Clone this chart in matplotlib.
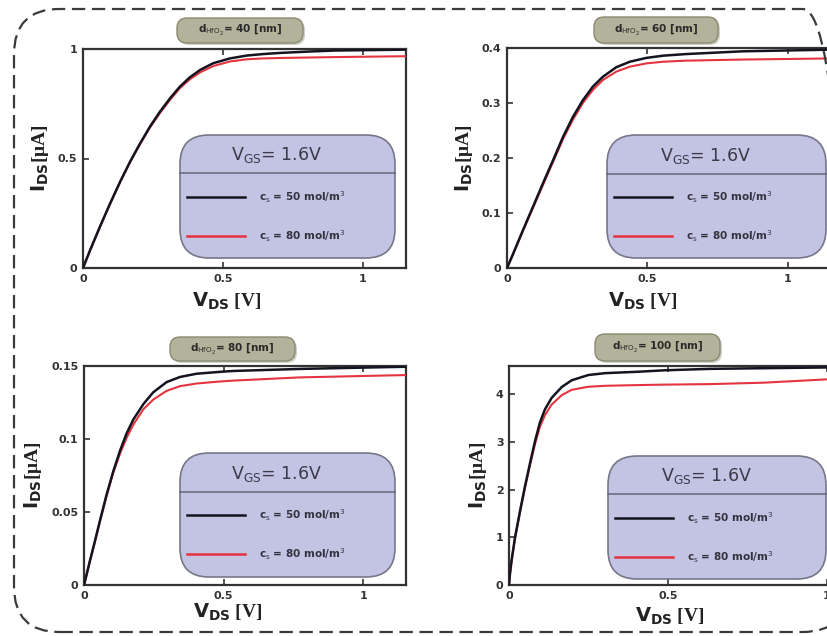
import matplotlib
matplotlib.use("Agg")
import matplotlib.pyplot as plt
from matplotlib.patches import FancyBboxPatch
from matplotlib.lines import Line2D

W, H = 827, 636

# ---------------- data ----------------
titles = ["40", "60", "80", "100"]
legend_title = r"V$_{\rm GS}$= 1.6V"
series_labels = [r"c$_{\rm s}$ = 50 mol/m$^3$", r"c$_{\rm s}$ = 80 mol/m$^3$"]

v1_black = [0, 0.025, 0.061, 0.096, 0.132, 0.168, 0.204, 0.239, 0.275, 0.311, 0.346, 0.382,
            0.418, 0.465, 0.525, 0.585, 0.644, 0.704, 0.80, 0.90, 1.15]
i1_black = [0, 0.08, 0.19, 0.292, 0.392, 0.485, 0.569, 0.645, 0.714, 0.775, 0.828, 0.871,
            0.904, 0.935, 0.957, 0.970, 0.977, 0.982, 0.988, 0.993, 0.997]
v1_red = [0, 0.025, 0.061, 0.096, 0.132, 0.168, 0.204, 0.239, 0.275, 0.311, 0.346, 0.382,
          0.418, 0.465, 0.525, 0.585, 0.644, 0.704, 0.80, 0.90, 1.15]
i1_red = [0, 0.08, 0.19, 0.292, 0.391, 0.483, 0.566, 0.641, 0.708, 0.768, 0.821, 0.862,
          0.893, 0.922, 0.943, 0.953, 0.957, 0.959, 0.961, 0.963, 0.967]

v2_black = [0, 0.021, 0.057, 0.093, 0.128, 0.164, 0.20, 0.235, 0.27, 0.306, 0.342, 0.389,
            0.437, 0.496, 0.555, 0.638, 0.84, 1.15]
i2_black = [0, 0.025, 0.069, 0.112, 0.154, 0.196, 0.239, 0.275, 0.305, 0.330, 0.348, 0.365,
            0.375, 0.382, 0.386, 0.389, 0.394, 0.397]
v2_red = [0, 0.021, 0.057, 0.093, 0.128, 0.164, 0.20, 0.235, 0.27, 0.306, 0.342, 0.389,
          0.437, 0.496, 0.555, 0.638, 0.84, 1.15]
i2_red = [0, 0.024, 0.068, 0.110, 0.151, 0.193, 0.235, 0.270, 0.300, 0.324, 0.342, 0.357,
          0.366, 0.372, 0.375, 0.377, 0.379, 0.381]

v3_black = [0, 0.0095, 0.021, 0.039, 0.057, 0.081, 0.105, 0.129, 0.153, 0.177, 0.213, 0.248,
            0.296, 0.344, 0.403, 0.487, 0.535, 0.773, 1.153]
i3_black = [0, 0.0073, 0.0164, 0.030, 0.044, 0.062, 0.078, 0.092, 0.104, 0.1135, 0.124, 0.132,
            0.139, 0.1425, 0.1447, 0.1460, 0.1466, 0.148, 0.1495]
v3_red = [0, 0.0095, 0.021, 0.039, 0.057, 0.081, 0.105, 0.129, 0.153, 0.177, 0.213, 0.248,
          0.296, 0.344, 0.403, 0.487, 0.535, 0.773, 1.153]
i3_red = [0, 0.0072, 0.0162, 0.0295, 0.0435, 0.061, 0.077, 0.090, 0.101, 0.110, 0.1205, 0.127,
          0.133, 0.1362, 0.138, 0.1394, 0.1400, 0.1422, 0.1438]

v4_black = [0, 0.003, 0.008, 0.019, 0.035, 0.05, 0.066, 0.082, 0.097, 0.113, 0.134, 0.166,
            0.197, 0.249, 0.302, 0.407, 0.49, 0.63, 1.0]
i4_black = [0, 0.23, 0.51, 1.0, 1.56, 2.06, 2.55, 3.02, 3.40, 3.68, 3.92, 4.15,
            4.29, 4.40, 4.44, 4.47, 4.50, 4.53, 4.56]
v4_red = [0, 0.003, 0.008, 0.019, 0.035, 0.05, 0.066, 0.082, 0.097, 0.113, 0.134, 0.166,
          0.197, 0.249, 0.302, 0.407, 0.49, 0.63, 0.8, 1.0]
i4_red = [0, 0.23, 0.50, 0.98, 1.54, 2.03, 2.51, 2.96, 3.31, 3.56, 3.78, 3.98,
          4.09, 4.155, 4.175, 4.19, 4.20, 4.21, 4.24, 4.31]

yticks = [[0, 0.5, 1], [0, 0.1, 0.2, 0.3, 0.4], [0, 0.05, 0.1, 0.15], [0, 1, 2, 3, 4]]
yticklabels = [["0", "0.5", "1"], ["0", "0.1", "0.2", "0.3", "0.4"],
               ["0", "0.05", "0.1", "0.15"], ["0", "1", "2", "3", "4"]]
xticks = [0, 0.5, 1]
xticklabels = ["0", "0.5", "1"]
ylims = [1.0, 0.4, 0.15, 4.59]
xlims = [1.154, 1.15, 1.153, 1.013]

data = [(v1_black, i1_black, v1_red, i1_red),
        (v2_black, i2_black, v2_red, i2_red),
        (v3_black, i3_black, v3_red, i3_red),
        (v4_black, i4_black, v4_red, i4_red)]

# ---------------- layout (pixels) ----------------
axes_px = [(83, 49, 323, 219), (507, 48, 323, 220), (84, 366, 322, 219), (509, 366, 322, 219)]
title_px = [(177, 18, 126, 25), (594, 17, 124, 26), (170, 337, 125, 24), (595, 334, 125, 27)]
legend_px = [(180, 135, 215, 123, 173), (607, 135, 219, 123, 174),
             (180, 453, 215, 124, 492), (608, 456, 218, 123, 494)]
xlabel_pos = [(0.446, -0.105), (0.42, -0.105), (0.446, -0.078), (0.5, -0.095)]

BLACK = "#141420"
RED = "#e3343f"

fig = plt.figure(figsize=(W / 100, H / 100), dpi=100)
fig.patch.set_facecolor("white")


def fx(px):
    return px / W


def fy(py):
    return 1 - py / H


# dashed rounded outer border
border = FancyBboxPatch((fx(14), fy(632)), fx(848) - fx(14), fy(9) - fy(632),
                        boxstyle="round,pad=0,rounding_size=0.055",
                        transform=fig.transFigure, fill=False, edgecolor="#3a3a3a",
                        linewidth=1.6, linestyle=(0, (6, 3)), mutation_aspect=W / H)
fig.add_artist(border)

for k in range(4):
    x0, y0, w, h = axes_px[k]
    ax = fig.add_axes([fx(x0), fy(y0 + h), w / W, h / H])
    vb, ib, vr, ir = data[k]
    ax.plot(vr, ir, color=RED, lw=1.5, zorder=3, solid_joinstyle="round")
    ax.plot(vb, ib, color=BLACK, lw=1.8, zorder=4, solid_joinstyle="round")
    ax.set_xlim(0, xlims[k])
    ax.set_ylim(0, ylims[k])
    ax.set_xticks(xticks)
    ax.set_xticklabels(xticklabels)
    ax.set_yticks(yticks[k])
    ax.set_yticklabels(yticklabels[k])
    ax.tick_params(direction="in", length=4, width=1.2, top=True, right=False,
                   labelsize=8, colors="#333333", pad=4)
    for lab in ax.get_xticklabels() + ax.get_yticklabels():
        lab.set_fontweight("bold")
    for s in ax.spines.values():
        s.set_linewidth(1.6)
        s.set_color("#333333")
    ax.set_ylabel(r"$\mathbf{I_{DS}}$[μA]", fontsize=14, fontweight="bold",
                  family="Liberation Serif", color="#222222", labelpad=5)
    ax.set_xlabel(r"$\mathbf{V_{DS}}$ [V]", fontsize=14, fontweight="bold",
                  family="Liberation Serif", color="#222222")
    ax.xaxis.set_label_coords(*xlabel_pos[k])

    # title box
    tx, ty, tw, th = title_px[k]
    shadow = FancyBboxPatch((fx(tx + 2), fy(ty + th + 2)), tw / W, th / H,
                            boxstyle="round,pad=0,rounding_size=0.012",
                            transform=fig.transFigure, facecolor="#d0d0c8",
                            edgecolor="none", mutation_aspect=W / H)
    fig.add_artist(shadow)
    tbox = FancyBboxPatch((fx(tx), fy(ty + th)), tw / W, th / H,
                          boxstyle="round,pad=0,rounding_size=0.012",
                          transform=fig.transFigure, facecolor="#b3b39c",
                          edgecolor="#8a8a72", linewidth=1.0, mutation_aspect=W / H)
    fig.add_artist(tbox)
    fig.text(fx(tx + tw / 2), fy(ty + th / 2),
             r"d$_{\rm HfO_2}$= " + titles[k] + " [nm]",
             ha="center", va="center", fontsize=7.5, fontweight="bold", color="#2a2a2a")

    # legend box
    lx, ly, lw_, lh, ldiv = legend_px[k]
    lbox = FancyBboxPatch((fx(lx), fy(ly + lh)), lw_ / W, lh / H,
                          boxstyle="round,pad=0,rounding_size=0.035",
                          transform=fig.transFigure, facecolor="#c3c3e3",
                          edgecolor="#77778a", linewidth=1.2, mutation_aspect=W / H,
                          zorder=5)
    fig.add_artist(lbox)
    fig.add_artist(Line2D([fx(lx), fx(lx + lw_)], [fy(ldiv), fy(ldiv)],
                          color="#66667a", lw=1.1, transform=fig.transFigure, zorder=6))
    fig.text(fx(lx + lw_ * 0.45), fy((ly + ldiv) / 2 + 1), legend_title,
             ha="center", va="center", fontsize=12.5, color="#3a3a4a", zorder=7)
    for j, (col, lab) in enumerate([(BLACK, series_labels[0]), (RED, series_labels[1])]):
        yy = ly + 62 + j * 39
        fig.add_artist(Line2D([fx(lx + 7), fx(lx + 65)], [fy(yy), fy(yy)], color=col,
                              lw=1.8, transform=fig.transFigure, zorder=7))
        fig.text(fx(lx + 79), fy(yy), lab, ha="left", va="center", fontsize=7.5,
                 fontweight="bold", color="#333340", zorder=7)

fig.savefig("out.png", dpi=100)
